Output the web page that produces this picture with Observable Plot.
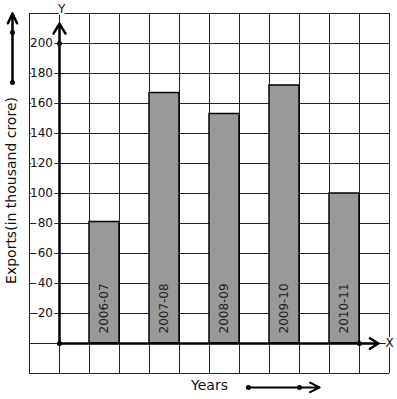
<!DOCTYPE html>
<html>
<head>
<meta charset="utf-8">
<script src="https://cdn.jsdelivr.net/npm/d3@7"></script>
<script src="https://cdn.jsdelivr.net/npm/@observablehq/plot@0.6"></script>
<style>
  html, body { margin: 0; padding: 0; background: #fff; }
  svg { display: block; }
</style>
</head>
<body>
<div id="chart"></div>
<script>
// Data
const years = ["2006-07", "2007-08", "2008-09", "2009-10", "2010-11"];
const exports_ = [81, 167, 153, 172, 100];
const yTicks = [20, 40, 60, 80, 100, 120, 140, 160, 180, 200];
const gridX = d3.range(-1, 12);        // graph-paper columns (1 unit each)
const gridY = d3.range(-20, 221, 20);  // graph-paper rows
const yLabel = "Exports(in thousand crore)";
const xLabel = "Years";

const data = years.map((year, i) => ({year, value: exports_[i], col: 1 + 2 * i}));

const font = "DejaVu Sans";

const chart = Plot.plot({
  width: 397,
  height: 399,
  marginLeft: 29,
  marginRight: 8,
  marginTop: 13,
  marginBottom: 26,
  style: {fontFamily: font, fontSize: "12px", background: "#fff", overflow: "visible"},
  x: {type: "linear", domain: [-1, 11], axis: null},
  y: {type: "linear", domain: [-20, 220], axis: null},
  marks: [
    // graph paper grid
    Plot.ruleX(gridX, {stroke: "#222", strokeWidth: 1}),
    Plot.ruleY(gridY, {stroke: "#222", strokeWidth: 1}),
    // bars
    Plot.rectY(data, {x1: "col", x2: d => d.col + 1, y1: 0, y2: "value", fill: "#999999", stroke: "#000", strokeWidth: 1.5}),
    // year labels inside bars
    Plot.text(data, {x: d => d.col + 0.5, y: 0, text: "year", rotate: -90, textAnchor: "start", dy: -10, fill: "#222", fontSize: 12}),
    // y tick labels with white background
    Plot.text(yTicks, {x: 0, y: d => d, text: d => String(d), textAnchor: "end", dx: -6.5, fill: "#111", stroke: "#fff", strokeWidth: 4.5, fontSize: 12}),
    Plot.ruleX([-1], {stroke: "#222", strokeWidth: 1}),
    // axes with arrows
    Plot.arrow([{x1: 0, y1: 0, x2: 10.63, y2: 0}], {x1: "x1", y1: "y1", x2: "x2", y2: "y2", stroke: "#000", strokeWidth: 2.5, headLength: 6, headAngle: 64}),
    Plot.arrow([{x1: 0, y1: 0, x2: 0, y2: 213.3}], {x1: "x1", y1: "y1", x2: "x2", y2: "y2", stroke: "#000", strokeWidth: 2.5, headLength: 7, headAngle: 62}),
    Plot.dot([[0, 0], [0, 200], [10, 0]], {x: d => d[0], y: d => d[1], r: 2.5, fill: "#000"}),
    // axis letters
    Plot.text(["Y"], {x: 0.07, y: 222.7, text: d => d, fill: "#111", stroke: "#fff", strokeWidth: 5, fontSize: 12}),
    Plot.text(["X"], {x: 11.0, y: 0, text: d => d, fill: "#111", stroke: "#fff", strokeWidth: 4, fontSize: 12}),
    // left decorative arrow
    Plot.arrow([{x1: -1.567, y1: 174, x2: -1.567, y2: 220}], {x1: "x1", y1: "y1", x2: "x2", y2: "y2", stroke: "#000", strokeWidth: 2.5, headLength: 6.5, headAngle: 50}),
    Plot.dot([[-1.567, 174], [-1.567, 207.3]], {x: d => d[0], y: d => d[1], r: 2.5, fill: "#000"}),
    // y axis title
    Plot.text([yLabel], {x: -1.6, y: 102, text: d => d, rotate: -90, fill: "#111", fontSize: 14}),
    // x axis title and arrow
    Plot.text([xLabel], {x: 5.0, y: -28, text: d => d, fill: "#111", fontSize: 14}),
    Plot.arrow([{x1: 6.3, y1: -29.3, x2: 8.67, y2: -29.3}], {x1: "x1", y1: "y1", x2: "x2", y2: "y2", stroke: "#000", strokeWidth: 2, headLength: 8, headAngle: 53}),
    Plot.dot([[6.3, -29.3], [8.0, -29.3]], {x: d => d[0], y: d => d[1], r: 2.5, fill: "#000"})
  ]
});

document.getElementById("chart").appendChild(chart);
</script>
</body>
</html>
